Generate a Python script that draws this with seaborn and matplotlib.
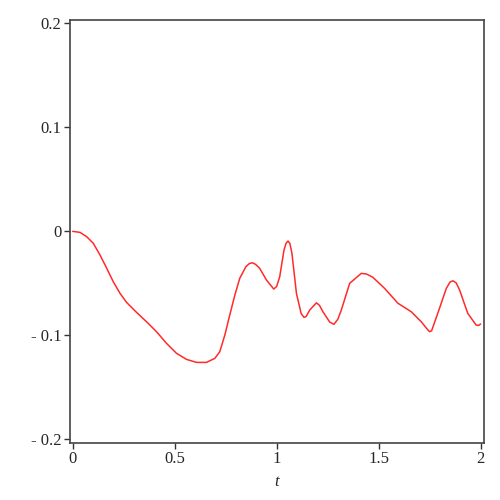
import numpy as np
import pandas as pd
import matplotlib
matplotlib.use("Agg")
import matplotlib.pyplot as plt
import seaborn as sns

# values
t = [0.0, 0.036, 0.069, 0.101, 0.134, 0.167, 0.199, 0.232, 0.264, 0.313,
     0.362, 0.411, 0.460, 0.509, 0.558, 0.607, 0.656, 0.697, 0.721, 0.746,
     0.770, 0.795, 0.819, 0.849, 0.866, 0.881, 0.897, 0.917, 0.950, 0.986,
     1.000, 1.015, 1.036, 1.046, 1.056, 1.065, 1.075, 1.097, 1.120, 1.134,
     1.145, 1.162, 1.195, 1.210, 1.227, 1.260, 1.281, 1.300, 1.317, 1.358,
     1.415, 1.440, 1.472, 1.529, 1.595, 1.660, 1.709, 1.740, 1.750, 1.760,
     1.790, 1.832, 1.850, 1.864, 1.880, 1.897, 1.937, 1.978, 1.990, 2.0]
y = [0.0, -0.0010, -0.0052, -0.0115, -0.0228, -0.0356, -0.0485, -0.0596, -0.0683, -0.0779,
     -0.0869, -0.0965, -0.1077, -0.1173, -0.1231, -0.1260, -0.1260, -0.1221, -0.1158, -0.0997,
     -0.0805, -0.0613, -0.0452, -0.0340, -0.0310, -0.0302, -0.0318, -0.0356, -0.0468, -0.0555,
     -0.0530, -0.0437, -0.0180, -0.0115, -0.0093, -0.0118, -0.0212, -0.0596, -0.0790, -0.0827,
     -0.0818, -0.0757, -0.0687, -0.0712, -0.0773, -0.0872, -0.0894, -0.0845, -0.0757, -0.0500,
     -0.0404, -0.0410, -0.0442, -0.0548, -0.0692, -0.0773, -0.0869, -0.0945, -0.0965, -0.0955,
     -0.0788, -0.0548, -0.0488, -0.0475, -0.0495, -0.0564, -0.0788, -0.0901, -0.0905, -0.0891]

xticks = [0, 0.5, 1, 1.5, 2]
xtick_labels = ["0", "0.5", "1", "1.5", "2"]
yticks = [-0.2, -0.1, 0, 0.1, 0.2]
ytick_labels = ["- 0.2", "- 0.1", "0", "0.1", "0.2"]

df = pd.DataFrame({"t": t, "y": y})

sns.set_style("white")
plt.rcParams['font.family'] = ['Liberation Serif', 'DejaVu Serif']

fig = plt.figure(figsize=(5, 5), dpi=100)
ax = fig.add_axes([0.139, 0.114, 0.8286, 0.846])

sns.lineplot(data=df, x="t", y="y", color="#ff2a2a", linewidth=1.1, ax=ax)

ax.set_xlim(-0.0157, 2.0157)
ax.set_ylim(-0.2035, 0.2032)
ax.set_xticks(xticks)
ax.set_xticklabels(xtick_labels)
ax.set_yticks(yticks)
ax.set_yticklabels(ytick_labels)
ax.tick_params(axis="both", direction="out", length=4, width=1, color="#333333",
               labelsize=12, pad=2, bottom=True, left=True)
for s in ax.spines.values():
    s.set_color("#444444")
    s.set_linewidth(1.2)

ax.set_xlabel("t", fontstyle="italic", fontsize=12, labelpad=5)
ax.set_ylabel("")

fig.savefig("out.png", dpi=100)
